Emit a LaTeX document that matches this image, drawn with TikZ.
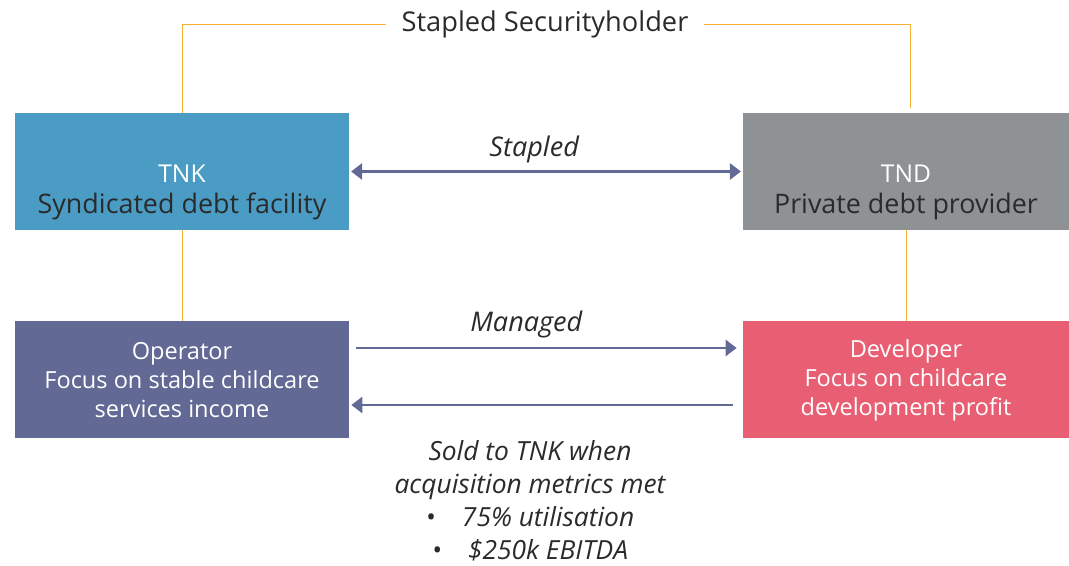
\documentclass[tikz,border=0pt]{standalone}
\usepackage{fontspec}
\setmainfont{Open Sans}
\usepackage{xcolor}
\usetikzlibrary{arrows.meta,positioning}
\definecolor{tnkblue}{HTML}{4A9CC5}
\definecolor{tndgrey}{HTML}{8E9295}
\definecolor{opblue}{HTML}{636995}
\definecolor{devred}{HTML}{E85F73}
\definecolor{staple}{HTML}{F5B030}
\definecolor{ink}{HTML}{2A2A2A}

\begin{document}
\begin{tikzpicture}[
	box/.style={rectangle, minimum height=2.34cm, align=center, inner sep=0pt},
	topbox/.style={box, font=\fontsize{15.3}{17.6}\selectfont},
	lowbox/.style={box, text=white, font=\fontsize{13.4}{16.5}\selectfont},
	link/.style={draw=staple, line width=0.5pt},
	flow/.style={draw=opblue, line width=1.6pt, -{Triangle[length=0.22cm,width=0.32cm]}},
	remark/.style={font=\fontsize{15.4}{18.8}\itshape},
	every node/.style={text=ink}]
	\useasboundingbox (0,0) rectangle (21.38,11.32);
	\node[topbox, fill=tnkblue, minimum width=6.68cm] (tnk) at (3.64,7.89) {\mbox{}\\[0.56cm]{\fontsize{14}{17.6}\selectfont\textcolor{white}{TNK}}\\Syndicated debt facility};
	\node[topbox, fill=tndgrey, minimum width=6.52cm] (tnd) at (18.12,7.89) {\mbox{}\\[0.56cm]{\fontsize{14}{17.6}\selectfont\textcolor{white}{TND}}\\Private debt provider};
	\node[lowbox, fill=opblue, minimum width=6.68cm] (op) at (3.64,3.72) {Operator\\Focus on stable childcare\\services income};
	\node[lowbox, fill=devred, minimum width=6.52cm] (dev) at (18.12,3.72) {Developer\\Focus on childcare\\development profit};
	\node[inner xsep=0.3cm, font=\fontsize{15.5}{19}\selectfont] (holder) at (10.9,10.84) {Stapled Securityholder};
	\coordinate (holderR) at (18.2,9.16);
	\node[align=center, font=\fontsize{15}{18.8}\itshape] (sold) at (10.6,1.3) {Sold to TNK when\\acquisition metrics met\\\textbullet\quad 75\% utilisation\\\textbullet\quad \$250k EBITDA};

	\draw[link] (holder.west) -| (tnk.north);
	\draw[link] (holder.east) -| (holderR);
	\draw[link] (tnk.south) -- (op.north);
	\draw[link] (tnd.south) -- (dev.north);

	\draw[flow, {Triangle[length=0.22cm,width=0.32cm]}-{Triangle[length=0.22cm,width=0.32cm]}, shorten <=1pt, shorten >=1pt] (tnk.east) -- (tnd.west) node[pos=0.47, above=0.03cm, remark] (stapled) {Stapled};
	\draw[flow, shorten <=0.14cm, shorten >=0.12cm] ([yshift=0.64cm]op.east) -- ([yshift=0.64cm]op.east -| dev.west) node[pos=0.45, above=0.06cm, remark] (managed) {Managed};
	\draw[flow, shorten <=0.2cm, shorten >=0.04cm] ([yshift=-0.5cm]op.east -| dev.west) -- ([yshift=-0.5cm]op.east);
\end{tikzpicture}
\end{document}
